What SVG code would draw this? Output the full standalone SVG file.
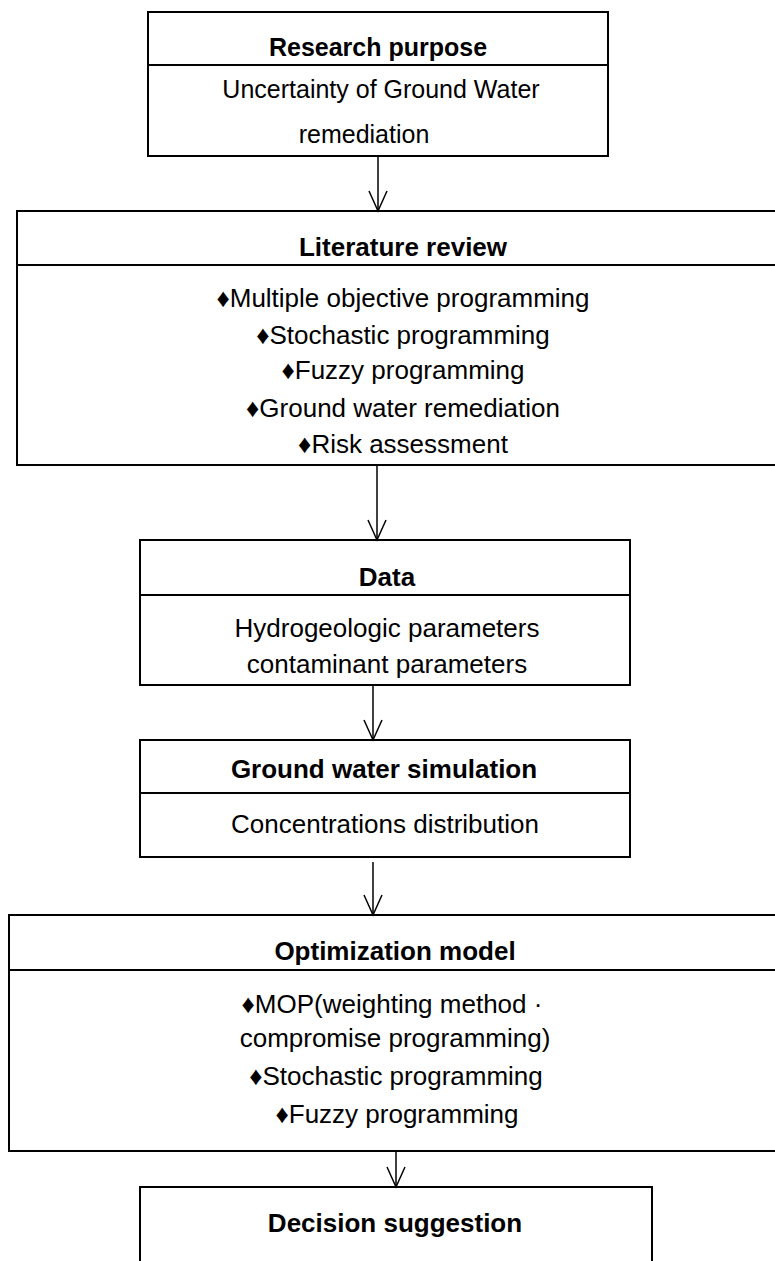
<svg xmlns="http://www.w3.org/2000/svg" width="775" height="1261" viewBox="0 0 775 1261">
<style>
.box{fill:#fff;stroke:#000;stroke-width:2}
.div{stroke:#000;stroke-width:2}
.t{font-family:"Liberation Sans",Arial,sans-serif;font-size:26px;fill:#000;text-anchor:middle}
.s{font-size:25px}
.b{font-weight:bold}
.con{stroke:#000;stroke-width:1.5;fill:none}
</style>
<defs>
<marker id="v" markerUnits="userSpaceOnUse" markerWidth="24" markerHeight="24" viewBox="-22 -12 24 24" refX="0" refY="0" orient="auto">
<path d="M-20,-9 L0,0 L-20,9" fill="none" stroke="#000" stroke-width="1.5"/>
</marker>
</defs>
<rect width="775" height="1261" fill="#fff"/>
<g id="n1">
<rect class="box" x="148" y="12" width="460" height="144"/>
<line class="div" x1="148" y1="65" x2="608" y2="65"/>
<text class="t b s" x="378" y="56">Research purpose</text>
<text class="t s" x="381" y="98">Uncertainty of Ground Water</text>
<text class="t s" x="364" y="143">remediation</text>
</g>
<g id="n2">
<rect class="box" x="17" y="211" width="790" height="254"/>
<line class="div" x1="17" y1="265" x2="807" y2="265"/>
<text class="t b" x="403" y="256">Literature review</text>
<text class="t" x="403" y="307">♦Multiple objective programming</text>
<text class="t" x="403" y="344">♦Stochastic programming</text>
<text class="t" x="403" y="379">♦Fuzzy programming</text>
<text class="t" x="403" y="417">♦Ground water remediation</text>
<text class="t" x="403" y="453">♦Risk assessment</text>
</g>
<g id="n3">
<rect class="box" x="140" y="540" width="490" height="145"/>
<line class="div" x1="140" y1="595" x2="630" y2="595"/>
<text class="t b" x="387" y="586">Data</text>
<text class="t" x="387" y="637">Hydrogeologic parameters</text>
<text class="t" x="387" y="673">contaminant parameters</text>
</g>
<g id="n4">
<rect class="box" x="140" y="740" width="490" height="117"/>
<line class="div" x1="140" y1="793" x2="630" y2="793"/>
<text class="t b" x="384" y="778">Ground water simulation</text>
<text class="t" x="385" y="833">Concentrations distribution</text>
</g>
<g id="n5">
<rect class="box" x="9" y="915" width="800" height="236"/>
<line class="div" x1="9" y1="970" x2="809" y2="970"/>
<text class="t b" x="395" y="960">Optimization model</text>
<text class="t" x="392" y="1013">♦MOP(weighting method ·</text>
<text class="t" x="395" y="1047">compromise programming)</text>
<text class="t" x="396" y="1085">♦Stochastic programming</text>
<text class="t" x="397" y="1123">♦Fuzzy programming</text>
</g>
<g id="n6">
<rect class="box" x="140" y="1187" width="512" height="100"/>
<text class="t b" x="395" y="1232">Decision suggestion</text>
</g>
<g id="connectors">
<line class="con" x1="378" y1="156" x2="378" y2="211" marker-end="url(#v)"/>
<line class="con" x1="377" y1="465" x2="377" y2="540" marker-end="url(#v)"/>
<line class="con" x1="373" y1="685" x2="373" y2="740" marker-end="url(#v)"/>
<line class="con" x1="373" y1="862" x2="373" y2="915" marker-end="url(#v)"/>
<line class="con" x1="396" y1="1151" x2="396" y2="1187" marker-end="url(#v)"/>
</g>
</svg>
